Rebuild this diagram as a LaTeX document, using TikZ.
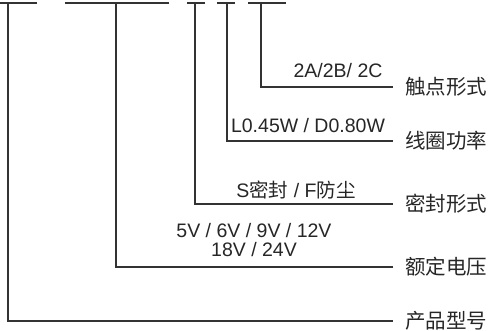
\documentclass[tikz,border=0pt]{standalone}
\usepackage{fontspec}
\setmainfont{Liberation Sans}
\newfontfamily\cjk{Noto Sans CJK SC}
\usetikzlibrary{positioning}

\begin{document}
\begin{tikzpicture}[
    x=1pt, y=-1pt,
    line/.style={draw=black!80, line width=1.2pt},
    lead/.style={line, shorten >=12pt},
    val/.style={anchor=base, inner sep=0pt, font=\fontsize{19.5}{22}\selectfont, text=black!85},
    cat/.style={anchor=west, inner sep=0pt, font=\fontsize{20.5}{23}\selectfont\cjk, text=black!85},
]
    \useasboundingbox (0,0) rectangle (489,331);

    % code positions along the top
    \coordinate (b1l) at (0,3);   \coordinate (b1r) at (37,3);  \coordinate (s1) at (8,3);
    \coordinate (b2l) at (65,3);  \coordinate (b2r) at (169,3); \coordinate (s2) at (116,3);
    \coordinate (b3l) at (187,3); \coordinate (b3r) at (205,3); \coordinate (s3) at (195,3);
    \coordinate (b4l) at (217,3); \coordinate (b4r) at (235,3); \coordinate (s4) at (227,3);
    \coordinate (b5l) at (248,3); \coordinate (b5r) at (286,3); \coordinate (s5) at (261,3);

    % categories on the right
    \node[cat] (contact) at (405,87)  {触点形式};
    \node[cat] (coil)    at (405,141) {线圈功率};
    \node[cat] (seal)    at (405,204) {密封形式};
    \node[cat] (volt)    at (405,267) {额定电压};
    \node[cat] (model)   at (405,321) {产品型号};

    % options above each lead
    \node[val] (contactv) at (338,78)  {2A/2B/ 2C};
    \node[val] (coilv)    at (308,133) {L0.45W / D0.80W};
    \node[val] (sealv)    at (296,197) {S{\cjk 密封} / F{\cjk 防尘}};
    \node[val] (voltv)    at (254,237) {5V / 6V / 9V / 12V};
    \node[val, below=5pt of voltv.base, anchor=north] (voltw) {18V / 24V};

    \foreach \i in {1,...,5} \draw[line] (b\i l) -- (b\i r);
    \draw[lead] (s5) |- (contact.west);
    \draw[lead] (s4) |- (coil.west);
    \draw[lead] (s3) |- (seal.west);
    \draw[lead] (s2) |- (volt.west);
    \draw[lead] (s1) |- (model.west);
\end{tikzpicture}
\end{document}
